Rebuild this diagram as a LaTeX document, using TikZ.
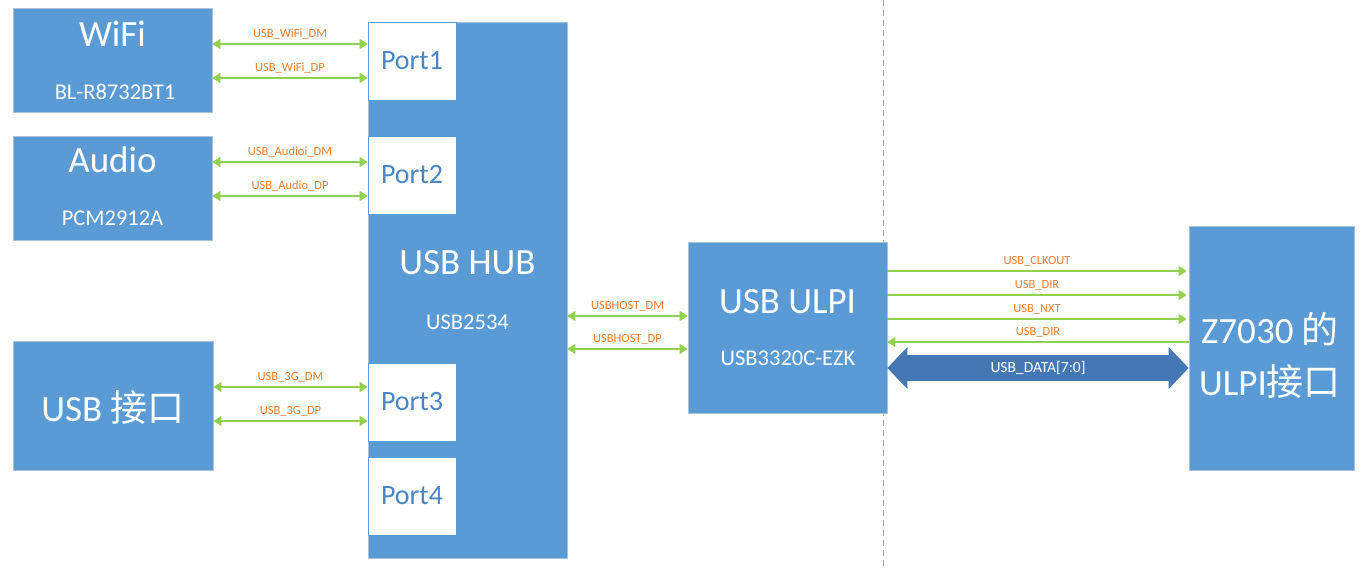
\documentclass[tikz,border=0pt]{standalone}
\usepackage{fontspec}
\setmainfont{Carlito}
\newfontfamily\cjk{Noto Sans CJK SC}
\usetikzlibrary{arrows.meta,calc}
\definecolor{boxblue}{HTML}{5B9BD5}
\definecolor{boxedge}{HTML}{A9C3DF}
\definecolor{porttext}{HTML}{4A86C5}
\definecolor{siggreen}{HTML}{92D050}
\definecolor{sigorange}{HTML}{ED7D31}
\definecolor{datablue}{HTML}{4677B5}
\definecolor{dashgray}{HTML}{A6A6A6}
\newcommand{\setfs}[1]{\fontsize{#1}{#1}\selectfont}
\begin{document}
\begin{tikzpicture}[x=1pt,y=-1pt,
    block/.style={draw=boxedge,fill=boxblue,line width=0.8pt,inner sep=0pt},
    portbox/.style={draw=boxblue,fill=white,line width=0.8pt,text=porttext,font=\setfs{28},minimum width=88pt,minimum height=78pt,inner sep=0pt},
    title/.style={text=white,font=\setfs{37},inner sep=0pt},
    sub/.style={text=white,font=\setfs{22.5},inner sep=0pt},
    sig/.style={draw=siggreen,line width=1.6pt,arrows={Triangle[length=8pt,width=10pt]-Triangle[length=8pt,width=10pt]}},
    sigr/.style={draw=siggreen,line width=1.6pt,arrows={-Triangle[length=8pt,width=10pt]}},
    lbl/.style={text=sigorange,font=\setfs{12.5},inner sep=0pt,above=4pt}]
    \useasboundingbox (0,0) rectangle (1362,569);
    %dividing line
    \draw[dashgray,line width=0.8pt,dash pattern=on 6pt off 4pt] (883,0) -- (883,569);

    %left devices
    \node[block,minimum width=199pt,minimum height=104pt] (wifi) at (112.5,60) {};
    \node[title] (wifiname) at (112.5,34) {WiFi};
    \node[sub] (wifichip) at (115,92) {BL-R8732BT1};
    \node[block,minimum width=199pt,minimum height=104pt] (audio) at (112.5,188) {};
    \node[title] (audioname) at (112.5,160) {Audio};
    \node[sub] (audiochip) at (112.5,218) {PCM2912A};
    \node[block,minimum width=200pt,minimum height=129pt] (usbport) at (113,405.5) {};
    \node[title] (usbportname) at (113,407) {USB {\cjk 接口}};

    %hub and its ports
    \node[block,minimum width=199pt,minimum height=536pt] (hub) at (467.5,290) {};
    \node[title] (hubname) at (467.5,263) {USB HUB};
    \node[sub] (hubchip) at (467.5,322) {USB2534};
    \node[portbox] (port1) at (412,61) {Port1};
    \node[portbox] (port2) at (412,175) {Port2};
    \node[portbox] (port3) at (412,402) {Port3};
    \node[portbox] (port4) at (412,496) {Port4};

    %ulpi phy and fpga
    \node[block,minimum width=199pt,minimum height=171pt] (ulpi) at (787.5,327.5) {};
    \node[title] (ulpiname) at (787.5,302) {USB ULPI};
    \node[sub] (ulpichip) at (788,358) {USB3320C-EZK};
    \node[block,minimum width=165pt,minimum height=244pt] (fpga) at (1271.5,348) {};
    \node[title] (fpganame) at (1270,329) {Z7030 {\cjk 的}};
    \node[title] (fpgaport) at (1270,381) {ULPI{\cjk 接口}};

    %usb pairs
    \draw[sig] (wifi.east |- 0,44) -- node[lbl] {USB\_WiFi\_DM} (port1.west |- 0,44);
    \draw[sig] (wifi.east |- 0,78) -- node[lbl] {USB\_WiFi\_DP} (port1.west |- 0,78);
    \draw[sig] (audio.east |- 0,162) -- node[lbl] {USB\_Audioi\_DM} (port2.west |- 0,162);
    \draw[sig] (audio.east |- 0,196) -- node[lbl] {USB\_Audio\_DP} (port2.west |- 0,196);
    \draw[sig] (usbport.east |- 0,387) -- node[lbl] {USB\_3G\_DM} (port3.west |- 0,387);
    \draw[sig] (usbport.east |- 0,421) -- node[lbl] {USB\_3G\_DP} (port3.west |- 0,421);
    \draw[sig] (hub.east |- 0,316) -- node[lbl] {USBHOST\_DM} (ulpi.west |- 0,316);
    \draw[sig] (hub.east |- 0,349) -- node[lbl] {USBHOST\_DP} (ulpi.west |- 0,349);

    %ulpi signals
    \draw[sigr] (ulpi.east |- 0,271) -- node[lbl] {USB\_CLKOUT} ([xshift=-2pt]fpga.west |- 0,271);
    \draw[sigr] (ulpi.east |- 0,295) -- node[lbl] {USB\_DIR} ([xshift=-2pt]fpga.west |- 0,295);
    \draw[sigr] (ulpi.east |- 0,319) -- node[lbl] {USB\_NXT} ([xshift=-2pt]fpga.west |- 0,319);
    \draw[sigr] (fpga.west |- 0,342) -- node[lbl] {USB\_DIR} (ulpi.east |- 0,342);

    %data bus
    \coordinate (dl) at (ulpi.east |- 0,368);
    \coordinate (dr) at (fpga.west |- 0,368);
    \fill[datablue] (dl) -- ([shift={(20,-21)}]dl) -- ([shift={(20,-13)}]dl) -- ([shift={(-20,-13)}]dr)
        -- ([shift={(-20,-21)}]dr) -- (dr) -- ([shift={(-20,21)}]dr) -- ([shift={(-20,13)}]dr)
        -- ([shift={(20,13)}]dl) -- ([shift={(20,21)}]dl) -- cycle;
    \node[text=white,font=\setfs{15.5},inner sep=0pt] (datalbl) at ($(dl)!0.5!(dr)$) {USB\_DATA[7:0]};
\end{tikzpicture}
\end{document}
